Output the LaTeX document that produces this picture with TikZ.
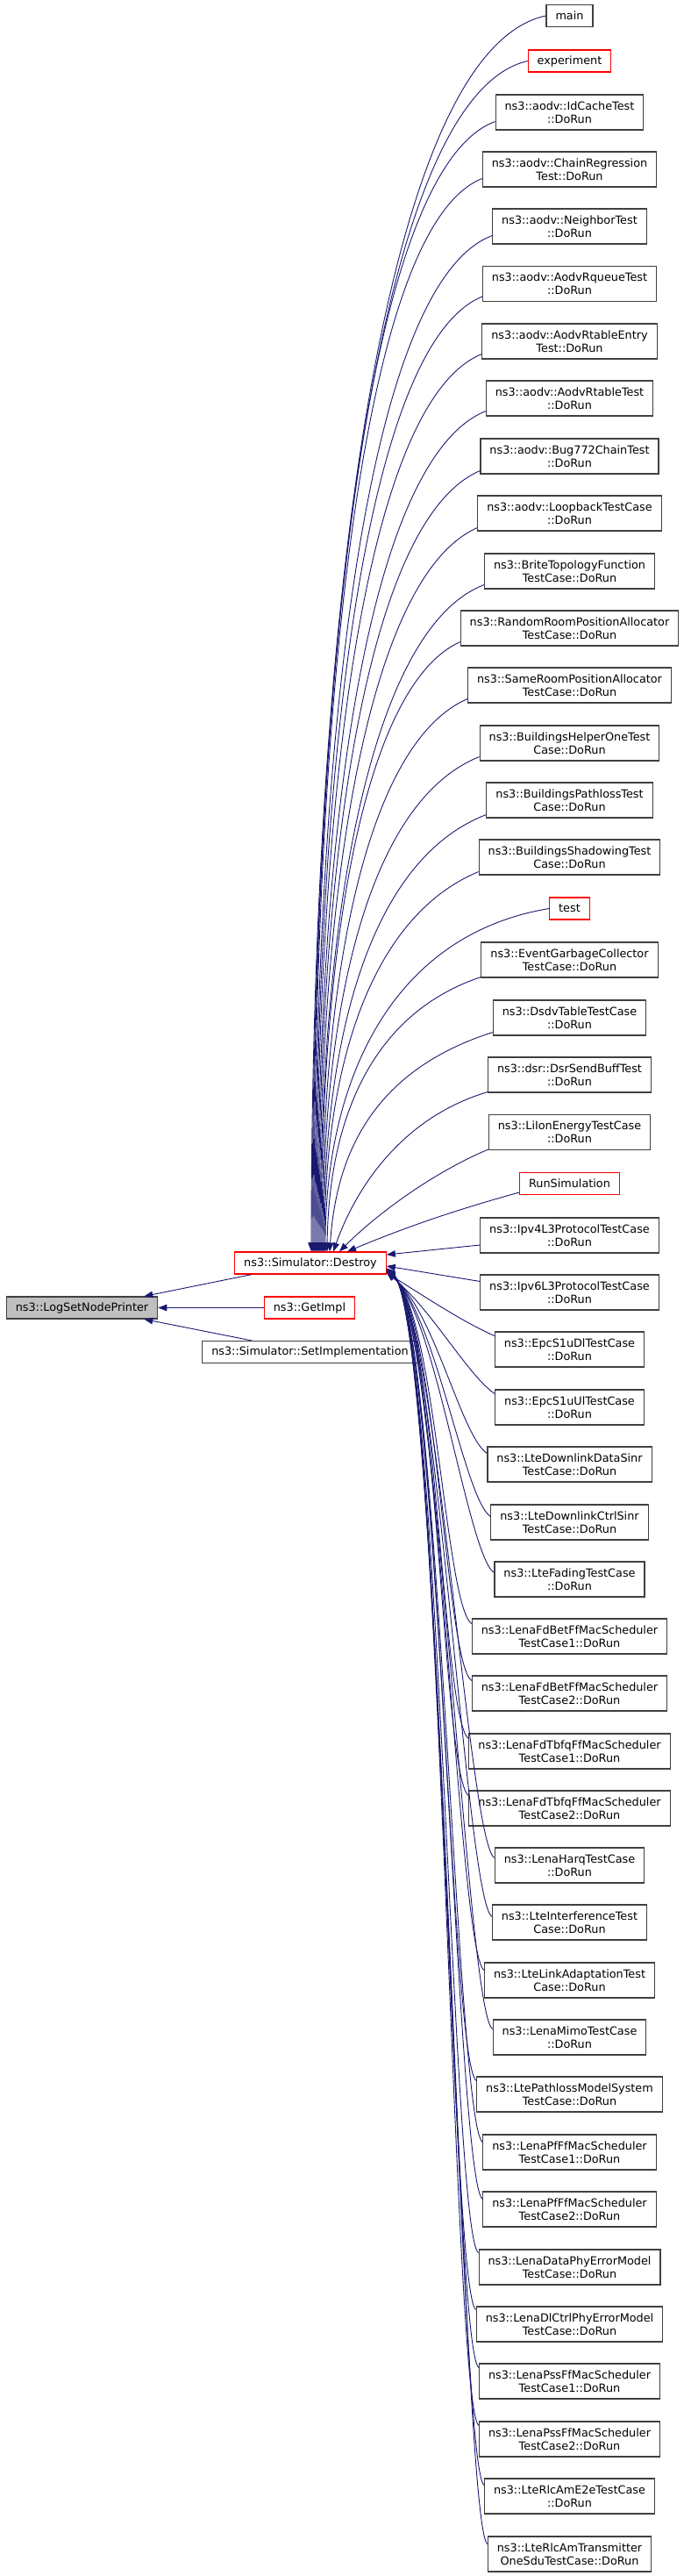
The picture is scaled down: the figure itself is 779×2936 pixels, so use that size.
\documentclass[tikz,border=0pt]{standalone}
\usepackage{fontspec}
\setmainfont{DejaVu Sans}
\usetikzlibrary{arrows.meta,calc}

\definecolor{midblue}{HTML}{191970}
\definecolor{fnred}{HTML}{FF0000}

\tikzset{
    fn/.style={draw=black!75, line width=1.1pt, fill=white,
               font=\fontsize{12.8}{15.3}\selectfont,
               inner xsep=10.5pt, inner ysep=0pt, minimum height=25pt},
    fnr/.style={fn, draw=fnred},
    two/.style={align=center, minimum height=40pt},
    cur/.style={fn, fill=black!25},
    edge/.style={draw=midblue, line width=0.9pt,
                 -{Triangle[length=10pt,width=7.5pt]}}
}

\begin{document}
\begin{tikzpicture}[x=1pt, y=-1pt]

    \useasboundingbox (0,0) rectangle (779,2936);

    % left part
    \node[cur] (printer) at (93.5, 1490.5) {ns3::LogSetNodePrinter};
    \node[fnr] (destroy) at (354, 1439.5) {ns3::Simulator::Destroy};
    \node[fnr] (getimpl) at (353, 1490.5) {ns3::GetImpl};
    \node[fn] (setimpl) at (353.5, 1541) {ns3::Simulator::SetImplementation};

    % callers of Destroy
    \node[fn]      (main)       at (649.5, 18)   {main};
    \node[fnr]     (experiment) at (649.5, 69.5) {experiment};
    \node[fn,two]  (idcache)    at (649.5, 128)  {ns3::aodv::IdCacheTest\\::DoRun};
    \node[fn,two]  (chain)      at (649.5, 193)  {ns3::aodv::ChainRegression\\Test::DoRun};
    \node[fn,two]  (neighbor)   at (649.5, 258)  {ns3::aodv::NeighborTest\\::DoRun};
    \node[fn,two]  (rqueue)     at (649.5, 323.5) {ns3::aodv::AodvRqueueTest\\::DoRun};
    \node[fn,two]  (rtentry)    at (649.5, 389)  {ns3::aodv::AodvRtableEntry\\Test::DoRun};
    \node[fn,two]  (rtable)     at (649.5, 454)  {ns3::aodv::AodvRtableTest\\::DoRun};
    \node[fn,two]  (bug772)     at (649.5, 520)  {ns3::aodv::Bug772ChainTest\\::DoRun};
    \node[fn,two]  (loopback)   at (649.5, 585)  {ns3::aodv::LoopbackTestCase\\::DoRun};
    \node[fn,two]  (brite)      at (649.5, 651)  {ns3::BriteTopologyFunction\\TestCase::DoRun};
    \node[fn,two]  (randroom)   at (649.5, 716)  {ns3::RandomRoomPositionAllocator\\TestCase::DoRun};
    \node[fn,two]  (sameroom)   at (649.5, 781)  {ns3::SameRoomPositionAllocator\\TestCase::DoRun};
    \node[fn,two]  (bhelper)    at (649.5, 847)  {ns3::BuildingsHelperOneTest\\Case::DoRun};
    \node[fn,two]  (bpathloss)  at (649.5, 912)  {ns3::BuildingsPathlossTest\\Case::DoRun};
    \node[fn,two]  (bshadow)    at (649.5, 977)  {ns3::BuildingsShadowingTest\\Case::DoRun};
    \node[fnr]     (test)       at (649.5, 1035.5) {test};
    \node[fn,two]  (garbage)    at (649.5, 1094) {ns3::EventGarbageCollector\\TestCase::DoRun};
    \node[fn,two]  (dsdv)       at (649.5, 1160) {ns3::DsdvTableTestCase\\::DoRun};
    \node[fn,two]  (dsrbuff)    at (649.5, 1225) {ns3::dsr::DsrSendBuffTest\\::DoRun};
    \node[fn,two]  (liion)      at (649.5, 1290.5) {ns3::LiIonEnergyTestCase\\::DoRun};
    \node[fnr]     (runsim)     at (649.5, 1349) {RunSimulation};
    \node[fn,two]  (ipvfour)    at (649.5, 1408) {ns3::Ipv4L3ProtocolTestCase\\::DoRun};
    \node[fn,two]  (ipvsix)     at (649.5, 1473) {ns3::Ipv6L3ProtocolTestCase\\::DoRun};
    \node[fn,two]  (epcdl)      at (649.5, 1538) {ns3::EpcS1uDlTestCase\\::DoRun};
    \node[fn,two]  (epcul)      at (649.5, 1604) {ns3::EpcS1uUlTestCase\\::DoRun};
    \node[fn,two]  (dldata)     at (649.5, 1669) {ns3::LteDownlinkDataSinr\\TestCase::DoRun};
    \node[fn,two]  (dlctrl)     at (649.5, 1735) {ns3::LteDownlinkCtrlSinr\\TestCase::DoRun};
    \node[fn,two]  (fading)     at (649.5, 1800) {ns3::LteFadingTestCase\\::DoRun};
    \node[fn,two]  (fdbetone)   at (649.5, 1865) {ns3::LenaFdBetFfMacScheduler\\TestCase1::DoRun};
    \node[fn,two]  (fdbettwo)   at (649.5, 1930) {ns3::LenaFdBetFfMacScheduler\\TestCase2::DoRun};
    \node[fn,two]  (tbfqone)    at (649.5, 1996) {ns3::LenaFdTbfqFfMacScheduler\\TestCase1::DoRun};
    \node[fn,two]  (tbfqtwo)    at (649.5, 2061) {ns3::LenaFdTbfqFfMacScheduler\\TestCase2::DoRun};
    \node[fn,two]  (harq)       at (649.5, 2126) {ns3::LenaHarqTestCase\\::DoRun};
    \node[fn,two]  (interf)     at (649.5, 2191) {ns3::LteInterferenceTest\\Case::DoRun};
    \node[fn,two]  (linkadapt)  at (649.5, 2257) {ns3::LteLinkAdaptationTest\\Case::DoRun};
    \node[fn,two]  (mimo)       at (649.5, 2322) {ns3::LenaMimoTestCase\\::DoRun};
    \node[fn,two]  (pathloss)   at (649.5, 2387) {ns3::LtePathlossModelSystem\\TestCase::DoRun};
    \node[fn,two]  (pfone)      at (649.5, 2453) {ns3::LenaPfFfMacScheduler\\TestCase1::DoRun};
    \node[fn,two]  (pftwo)      at (649.5, 2518) {ns3::LenaPfFfMacScheduler\\TestCase2::DoRun};
    \node[fn,two]  (dataphy)    at (649.5, 2584) {ns3::LenaDataPhyErrorModel\\TestCase::DoRun};
    \node[fn,two]  (ctrlphy)    at (649.5, 2649) {ns3::LenaDlCtrlPhyErrorModel\\TestCase::DoRun};
    \node[fn,two]  (pssone)     at (649.5, 2714) {ns3::LenaPssFfMacScheduler\\TestCase1::DoRun};
    \node[fn,two]  (psstwo)     at (649.5, 2780) {ns3::LenaPssFfMacScheduler\\TestCase2::DoRun};
    \node[fn,two]  (rlce2e)     at (649.5, 2845) {ns3::LteRlcAmE2eTestCase\\::DoRun};
    \node[fn,two]  (rlctx)      at (649.5, 2911) {ns3::LteRlcAmTransmitter\\OneSduTestCase::DoRun};

    % into LogSetNodePrinter
    \draw[edge] ($(destroy.south west)+(20,0)$) -- ($(printer.north east)+(-16,0)$);
    \draw[edge] (getimpl.west) -- (printer.east);
    \draw[edge] ($(setimpl.north west)+(57,0)$) -- ($(printer.south east)+(-16,0)$);

    % callers above, into the top of Destroy
    \draw[edge] (main.west) .. controls +(-190,40) and +(0,-700) .. ($(destroy.north)+(1,0)$);
    \draw[edge] (experiment.west) .. controls +(-175,40) and +(0,-680) .. ($(destroy.north)+(2,0)$);
    \draw[edge] ($(idcache.south west)+(0,-10)$) .. controls +(-150,55) and +(0,-640) .. ($(destroy.north)+(3,0)$);
    \draw[edge] ($(chain.south west)+(0,-10)$) .. controls +(-140,55) and +(0,-610) .. ($(destroy.north)+(4,0)$);
    \draw[edge] ($(neighbor.south west)+(0,-10)$) .. controls +(-145,55) and +(0,-580) .. ($(destroy.north)+(5,0)$);
    \draw[edge] ($(rqueue.south west)+(0,-6)$) .. controls +(-135,55) and +(0,-545) .. ($(destroy.north)+(6,0)$);
    \draw[edge] ($(rtentry.south west)+(0,-6)$) .. controls +(-135,55) and +(0,-510) .. ($(destroy.north)+(7,0)$);
    \draw[edge] ($(rtable.south west)+(0,-6)$) .. controls +(-135,55) and +(0,-480) .. ($(destroy.north)+(8,0)$);
    \draw[edge] ($(bug772.south west)+(0,-4)$) .. controls +(-130,55) and +(0,-445) .. ($(destroy.north)+(9,0)$);
    \draw[edge] ($(loopback.south west)+(0,-4)$) .. controls +(-125,55) and +(0,-415) .. ($(destroy.north)+(10,0)$);
    \draw[edge] ($(brite.south west)+(0,-5)$) .. controls +(-130,50) and +(0,-380) .. ($(destroy.north)+(11,0)$);
    \draw[edge] ($(randroom.south west)+(0,-5)$) .. controls +(-110,50) and +(0,-350) .. ($(destroy.north)+(12,0)$);
    \draw[edge] ($(sameroom.south west)+(0,-5)$) .. controls +(-115,50) and +(0,-315) .. ($(destroy.north)+(13,0)$);
    \draw[edge] ($(bhelper.south west)+(0,-5)$) .. controls +(-125,50) and +(0,-285) .. ($(destroy.north)+(14,0)$);
    \draw[edge] ($(bpathloss.south west)+(0,-4)$) .. controls +(-130,50) and +(0,-250) .. ($(destroy.north)+(15,0)$);
    \draw[edge] ($(bshadow.south west)+(0,-4)$) .. controls +(-120,50) and +(0,-218) .. ($(destroy.north)+(16,0)$);
    \draw[edge] (test.west) .. controls +(-180,30) and +(0,-195) .. ($(destroy.north)+(17,0)$);
    \draw[edge] ($(garbage.south west)+(0,-1)$) .. controls +(-120,40) and +(2,-158) .. ($(destroy.north)+(19,0)$);
    \draw[edge] ($(dsdv.south west)+(0,-4)$) .. controls +(-125,40) and +(8,-125) .. ($(destroy.north)+(22,0)$);
    \draw[edge] ($(dsrbuff.south west)+(0,-1)$) .. controls +(-100,30) and +(25,-70) .. ($(destroy.north)+(26,0)$);
    \draw[edge] ($(liion.south west)+(0,-1)$) .. controls +(-60,25) and +(45,-45) .. ($(destroy.north)+(33,0)$);
    \draw[edge] ($(runsim.south west)+(0,-3)$) .. controls +(-80,22) and +(60,-25) .. ($(destroy.north)+(42,0)$);

    % callers level with Destroy
    \draw[edge] ($(ipvfour.west)+(0,11)$) -- ($(destroy.east)+(0,-9.5)$);
    \draw[edge] ($(ipvsix.north west)+(0,8)$) -- ($(destroy.east)+(0,3.5)$);

    % callers below, into the lower right corner of Destroy
    \draw[edge] ($(epcdl.north west)+(0,5)$) .. controls +(-35,-15) and +(40,25) .. ($(destroy.south east)+(0,-2)$);
    \draw[edge] ($(epcul.north west)+(0,5)$) .. controls +(-30,-20) and +(50,40) .. ($(destroy.south east)+(0,-2)$);
    \draw[edge] ($(dldata.north west)+(0,8)$) .. controls +(-30,-20) and +(55,45) .. ($(destroy.south east)+(0,-3)$);
    \draw[edge] ($(dlctrl.north west)+(0,14)$) .. controls +(-30,-20) and +(55,45) .. ($(destroy.south east)+(0,-3)$);
    \draw[edge] ($(fading.north west)+(0,13)$) .. controls +(-30,-20) and +(56,46) .. ($(destroy.south east)+(0,-3)$);
    \draw[edge] ($(fdbetone.north west)+(0,6)$) .. controls +(-30,-20) and +(56,46) .. ($(destroy.south east)+(0,-4)$);
    \draw[edge] ($(fdbettwo.north west)+(0,6)$) .. controls +(-30,-20) and +(57,47) .. ($(destroy.south east)+(0,-4)$);
    \draw[edge] ($(tbfqone.north west)+(0,6)$) .. controls +(-30,-20) and +(57,47) .. ($(destroy.south east)+(0,-4)$);
    \draw[edge] ($(tbfqtwo.north west)+(0,6)$) .. controls +(-30,-20) and +(58,48) .. ($(destroy.south east)+(0,-4)$);
    \draw[edge] ($(harq.north west)+(0,12)$) .. controls +(-30,-20) and +(58,48) .. ($(destroy.south east)+(0,-5)$);
    \draw[edge] ($(interf.north west)+(0,14)$) .. controls +(-30,-20) and +(58,48) .. ($(destroy.south east)+(0,-5)$);
    \draw[edge] ($(linkadapt.north west)+(0,9)$) .. controls +(-30,-20) and +(59,49) .. ($(destroy.south east)+(0,-5)$);
    \draw[edge] ($(mimo.north west)+(0,11)$) .. controls +(-30,-20) and +(59,49) .. ($(destroy.south east)+(0,-5)$);
    \draw[edge] ($(pathloss.north west)+(0,5)$) .. controls +(-30,-20) and +(59,49) .. ($(destroy.south east)+(0,-5)$);
    \draw[edge] ($(pfone.north west)+(0,9)$) .. controls +(-30,-20) and +(60,50) .. ($(destroy.south east)+(0,-6)$);
    \draw[edge] ($(pftwo.north west)+(0,9)$) .. controls +(-30,-20) and +(60,50) .. ($(destroy.south east)+(0,-6)$);
    \draw[edge] ($(dataphy.north west)+(0,4)$) .. controls +(-30,-20) and +(60,50) .. ($(destroy.south east)+(0,-6)$);
    \draw[edge] ($(ctrlphy.north west)+(0,4)$) .. controls +(-30,-20) and +(61,51) .. ($(destroy.south east)+(0,-6)$);
    \draw[edge] ($(pssone.north west)+(0,5)$) .. controls +(-30,-20) and +(61,51) .. ($(destroy.south east)+(0,-6)$);
    \draw[edge] ($(psstwo.north west)+(0,5)$) .. controls +(-30,-20) and +(62,52) .. ($(destroy.south east)+(0,-7)$);
    \draw[edge] ($(rlce2e.north west)+(0,8)$) .. controls +(-30,-20) and +(62,52) .. ($(destroy.south east)+(0,-7)$);
    \draw[edge] ($(rlctx.north west)+(0,9)$) .. controls +(-30,-20) and +(62,52) .. ($(destroy.south east)+(0,-7)$);

\end{tikzpicture}
\end{document}
